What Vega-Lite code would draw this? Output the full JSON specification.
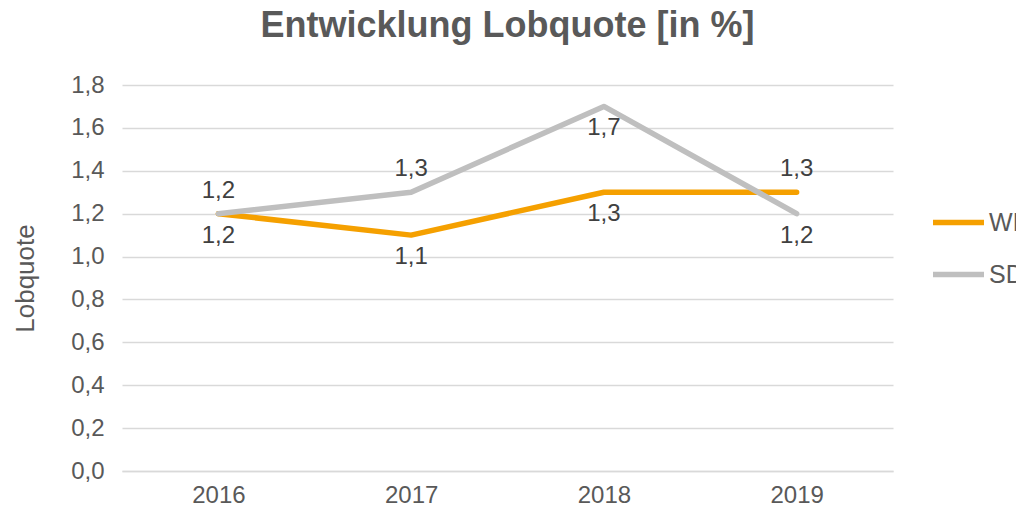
{
  "$schema": "https://vega.github.io/schema/vega-lite/v6.json",
  "autosize": "none",
  "width": 771,
  "height": 386,
  "padding": {"left": 122, "top": 85, "right": 123, "bottom": 41},
  "background": "white",
  "config": {
    "locale": {"number": {"decimal": ",", "thousands": ".", "grouping": [3], "currency": ["", " €"]}},
    "font": "Liberation Sans",
    "view": {"stroke": null}
  },
  "title": {
    "text": "Entwicklung Lobquote [in %]",
    "fontSize": 36,
    "fontWeight": "bold",
    "color": "#595959",
    "anchor": "middle",
    "offset": 28
  },
  "data": {
    "values": [
      {"Jahr": "2016", "Serie": "WI", "Wert": 1.2, "pos": "below"},
      {"Jahr": "2017", "Serie": "WI", "Wert": 1.1, "pos": "below"},
      {"Jahr": "2018", "Serie": "WI", "Wert": 1.3, "pos": "below"},
      {"Jahr": "2019", "Serie": "WI", "Wert": 1.3, "pos": "above"},
      {"Jahr": "2016", "Serie": "SD", "Wert": 1.2, "pos": "above"},
      {"Jahr": "2017", "Serie": "SD", "Wert": 1.3, "pos": "above"},
      {"Jahr": "2018", "Serie": "SD", "Wert": 1.7, "pos": "below"},
      {"Jahr": "2019", "Serie": "SD", "Wert": 1.2, "pos": "below"}
    ]
  },
  "encoding": {
    "x": {
      "field": "Jahr",
      "type": "ordinal",
      "scale": {"type": "point", "padding": 0.5},
      "axis": {
        "title": null,
        "labelAngle": 0,
        "labelFontSize": 24,
        "labelColor": "#595959",
        "labelPadding": 12,
        "ticks": false,
        "domainColor": "#D9D9D9",
        "domainWidth": 1.5,
        "grid": false
      }
    },
    "y": {
      "field": "Wert",
      "type": "quantitative",
      "scale": {"domain": [0, 1.8], "nice": false},
      "axis": {
        "title": "Lobquote",
        "titleFontSize": 26,
        "titleFontWeight": "normal",
        "titleColor": "#595959",
        "titlePadding": 32,
        "values": [0, 0.2, 0.4, 0.6, 0.8, 1.0, 1.2, 1.4, 1.6, 1.8],
        "format": ".1f",
        "labelFontSize": 24,
        "labelColor": "#595959",
        "labelPadding": 18,
        "ticks": false,
        "domain": false,
        "gridColor": "#D9D9D9",
        "gridWidth": 1.5
      }
    }
  },
  "layer": [
    {
      "mark": {"type": "line", "strokeWidth": 5.5, "strokeCap": "round", "strokeJoin": "round"},
      "encoding": {
        "color": {
          "field": "Serie",
          "type": "nominal",
          "scale": {"domain": ["WI", "SD"], "range": ["#F5A000", "#BFBFBF"]},
          "legend": {
            "title": null,
            "orient": "none",
            "legendX": 808,
            "legendY": 109,
            "symbolType": "stroke",
            "symbolStrokeWidth": 5.5,
            "symbolSize": 2600,
            "labelFontSize": 25,
            "labelColor": "#595959",
            "labelOffset": 2,
            "rowPadding": 10
          }
        },
        "order": {"field": "Serie", "sort": "descending"}
      }
    },
    {
      "transform": [{"filter": "datum.pos === 'above'"}],
      "mark": {"type": "text", "fontSize": 24, "color": "#404040", "baseline": "middle", "dy": -23},
      "encoding": {"text": {"field": "Wert", "type": "quantitative", "format": ".1f"}}
    },
    {
      "transform": [{"filter": "datum.pos === 'below'"}],
      "mark": {"type": "text", "fontSize": 24, "color": "#404040", "baseline": "middle", "dy": 22},
      "encoding": {"text": {"field": "Wert", "type": "quantitative", "format": ".1f"}}
    }
  ]
}
